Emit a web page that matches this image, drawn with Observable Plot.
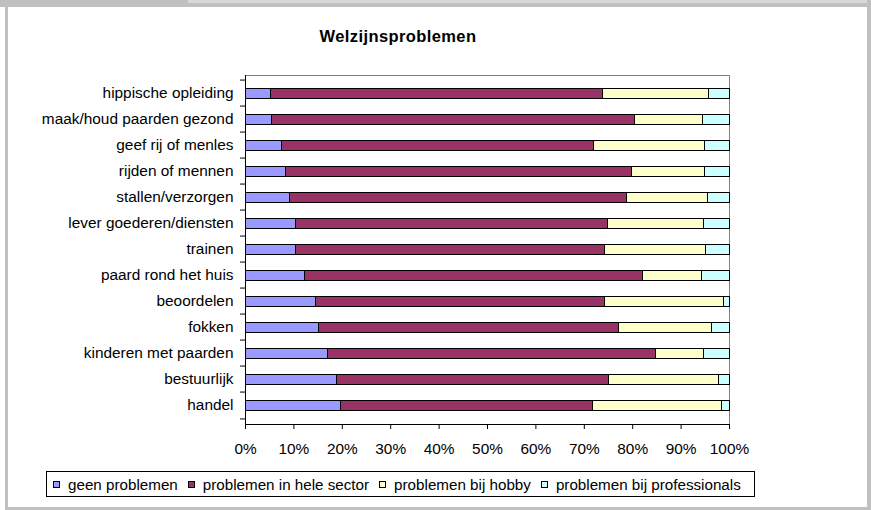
<!DOCTYPE html>
<html>
<head>
<meta charset="utf-8">
<script src="https://cdn.jsdelivr.net/npm/d3@7"></script>
<script src="https://cdn.jsdelivr.net/npm/@observablehq/plot@0.6"></script>
<style>
  html, body { margin: 0; padding: 0; background: #fff; }
  #wrap { position: relative; width: 871px; height: 510px; background: #fff; overflow: hidden;
          font-family: "Liberation Sans", Arial, sans-serif; color: #000; }
  .g { position: absolute; background: #c0c0c0; }
  #title { position: absolute; left: 0; width: 796px; top: 27px; text-align: center;
           font-weight: bold; font-size: 16.5px; letter-spacing: 0.4px; }
  #chart { position: absolute; left: 0; top: 60px; }
  #chart rect { shape-rendering: crispEdges; }
  #legend { position: absolute; left: 46px; top: 471px; width: 701px; height: 24px;
            border: 1px solid #000; display: flex; align-items: center; font-size: 15.2px;
            padding-left: 6px; box-sizing: content-box; white-space: nowrap; }
  .item { display: flex; align-items: center; margin-right: 10px; }
  .sw { width: 5px; height: 5px; border: 1px solid #000; margin-right: 8px; }
</style>
</head>
<body>
<div id="wrap">
  <div class="g" style="left:0;top:0;width:871px;height:7px"></div>
  <div class="g" style="left:188px;top:0;width:683px;height:3px;background:#d8d8d8"></div>
  <div class="g" style="left:5px;top:0;width:3px;height:510px"></div>
  <div class="g" style="left:867px;top:0;width:4px;height:510px"></div>
  <div class="g" style="left:5px;top:507px;width:866px;height:3px"></div>
  <div id="title">Welzijnsproblemen</div>
  <div id="chart"></div>
  <div id="legend"></div>
</div>
<script>
const categories = [
  "hippische opleiding", "maak/houd paarden gezond", "geef rij of menles", "rijden of mennen",
  "stallen/verzorgen", "lever goederen/diensten", "trainen", "paard rond het huis",
  "beoordelen", "fokken", "kinderen met paarden", "bestuurlijk", "handel"
];
const seriesNames = ["geen problemen", "problemen in hele sector", "problemen bij hobby", "problemen bij professionals"];
const seriesColors = ["#9999FF", "#993366", "#FFFFCC", "#CCFFFF"];
const geen   = [5.2, 5.4, 7.6, 8.3, 9.1, 10.4, 10.4, 12.2, 14.5, 15.2, 17.0, 18.9, 19.7];
const sector = [68.7, 75.0, 64.5, 71.6, 69.8, 64.4, 63.8, 70.0, 59.7, 61.9, 67.8, 56.2, 52.2];
const hobby  = [21.8, 14.2, 22.9, 15.1, 16.6, 20.0, 21.0, 12.1, 24.6, 19.2, 10.0, 22.7, 26.5];
const prof   = [4.3, 5.4, 5.0, 5.0, 4.5, 5.2, 4.8, 5.7, 1.2, 3.7, 5.2, 2.2, 1.6];
const xTicks = [0, 10, 20, 30, 40, 50, 60, 70, 80, 90, 100];

const seriesValues = [geen, sector, hobby, prof];
const rows = [];
categories.forEach((c, i) => {
  seriesNames.forEach((s, j) => rows.push({cat: c, series: s, value: seriesValues[j][i]}));
});

const W = 871, H = 400, mt = 15, mb = 36, ml = 245, mr = 142;
const step = (H - mt - mb) / categories.length;

const chart = Plot.plot({
  width: W, height: H,
  marginTop: mt, marginBottom: mb, marginLeft: ml, marginRight: mr,
  style: {fontFamily: "'Liberation Sans', Arial, sans-serif", fontSize: "15.4px", color: "#000", background: "transparent"},
  x: {domain: [0, 100], label: null},
  y: {domain: categories, paddingInner: 0.6, paddingOuter: 0.3, label: null},
  color: {domain: seriesNames, range: seriesColors},
  marks: [
    Plot.frame({anchor: "top", stroke: "#808080"}),
    Plot.frame({anchor: "right", stroke: "#808080"}),
    Plot.barX(rows, Plot.stackX({x: "value", y: "cat", fill: "series", z: "series", stroke: "#000", strokeWidth: 1})),
    Plot.frame({anchor: "left", stroke: "#000"}),
    Plot.frame({anchor: "bottom", stroke: "#000"}),
    Plot.axisX({ticks: xTicks, tickFormat: d => d + "%", tickSize: 5, tickPadding: 14, stroke: "#000", fill: "#000", label: null}),
    Plot.axisY({tickSize: 0, tickPadding: 12, fill: "#000", label: null}),
    Plot.axisY({tickSize: 5, text: null, dy: -step / 2, stroke: "#000", label: null}),
    Plot.axisY([categories[categories.length - 1]], {tickSize: 5, text: null, dy: step / 2, stroke: "#000", label: null})
  ]
});
document.getElementById("chart").appendChild(chart);

const legend = document.getElementById("legend");
seriesNames.forEach((s, j) => {
  const it = document.createElement("div");
  it.className = "item";
  const sw = document.createElement("div");
  sw.className = "sw";
  sw.style.background = seriesColors[j];
  const t = document.createElement("span");
  t.textContent = s;
  it.appendChild(sw); it.appendChild(t);
  legend.appendChild(it);
});
</script>
</body>
</html>
